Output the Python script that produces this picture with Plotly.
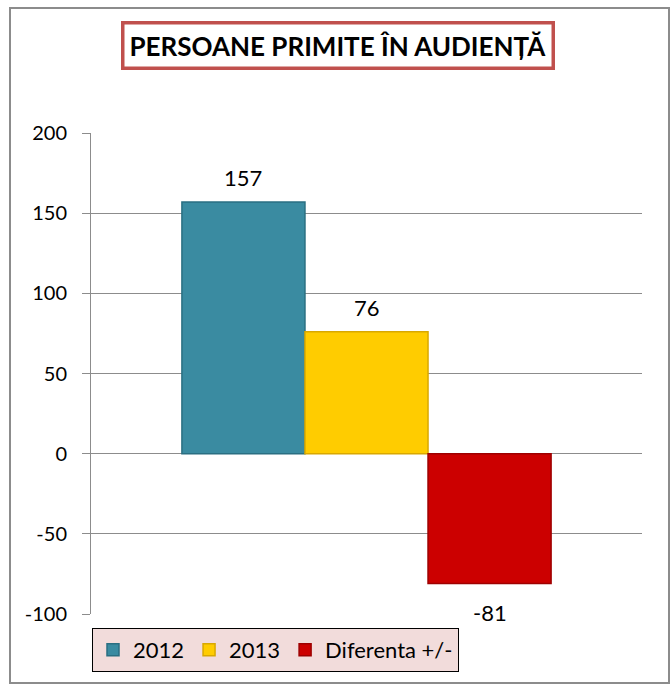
import plotly.graph_objects as go

# Chart data
series_names = ["2012", "2013", "Diferenta +/-"]
series_values = [157, 76, -81]
series_colors = ["#3A8BA1", "#FFCC00", "#CC0000"]
edge_colors = ["#2A6F82", "#D9A800", "#9E0000"]
category = [""]
tick_values = [-100, -50, 0, 50, 100, 150, 200]
tick_labels = ["-100", "-50", "0", "50", "100", "150", "200"]
title_text = "<b>PERSOANE PRIMITE ÎN AUDIENȚĂ</b>"

# Canvas and plot-area geometry (pixels)
W, H = 671, 685
PL, PR, PT, PB = 91, 642, 133, 614
BARGAP = 0.33
FONT = "Lato"

fig = go.Figure()
for name, val, col, edge in zip(series_names, series_values, series_colors, edge_colors):
    fig.add_trace(go.Bar(
        x=category, y=[val], name=name,
        marker=dict(color=col, line=dict(color=edge, width=1.5)),
    ))

# Value labels above positive / below negative bars
plot_w = PR - PL
bar_px = plot_w * (1 - BARGAP) / len(series_values)
annotations = []
for i, val in enumerate(series_values):
    annotations.append(dict(
        x=0, y=val, xref="x", yref="y", text=str(val), showarrow=False,
        xshift=(i - (len(series_values) - 1) / 2) * bar_px,
        yshift=24 if val >= 0 else -29, yanchor="middle",
        font=dict(family=FONT, size=22, color="black"),
    ))

def px_x(p):
    return (p - PL) / plot_w

def px_y(p):
    return (PB - p) / (PB - PT)

# Title box
annotations.append(dict(
    x=px_x(338), y=px_y(45), xref="paper", yref="paper", text=title_text,
    showarrow=False, xanchor="center", yanchor="middle",
    font=dict(family=FONT, size=26, color="black"),
    bgcolor="white", bordercolor="#C0504D", borderwidth=3.5, borderpad=5,
))

fig.update_layout(
    width=W, height=H,
    margin=dict(l=PL, r=W - PR, t=PT, b=H - PB, pad=0),
    paper_bgcolor="white", plot_bgcolor="white",
    barmode="group", bargap=BARGAP, bargroupgap=0,
    showlegend=True,
    legend=dict(
        orientation="h", x=px_x(92), y=px_y(628), xanchor="left", yanchor="top",
        bgcolor="#F2DCDB", bordercolor="black", borderwidth=1,
        font=dict(family=FONT, size=22, color="black"),
        itemwidth=30, tracegroupgap=0,
    ),
    xaxis=dict(showgrid=False, showticklabels=False, showline=False, zeroline=False,
               fixedrange=True),
    yaxis=dict(
        range=[-100, 200], tickvals=tick_values, ticktext=tick_labels,
        showgrid=True, gridcolor="#8C8C8C", gridwidth=1,
        zeroline=True, zerolinecolor="#8C8C8C", zerolinewidth=1,
        showline=True, linecolor="#8C8C8C", linewidth=1,
        ticks="outside", ticklen=8, tickcolor="#8C8C8C",
        ticklabelstandoff=11,
        tickfont=dict(family=FONT, size=20, color="black"),
    ),
    annotations=annotations,
    shapes=[dict(
        type="rect", xref="paper", yref="paper",
        x0=px_x(10), x1=px_x(669), y0=px_y(683), y1=px_y(8),
        line=dict(color="#8C8C8C", width=2), layer="below",
    )],
)

fig.write_html("out.html")
